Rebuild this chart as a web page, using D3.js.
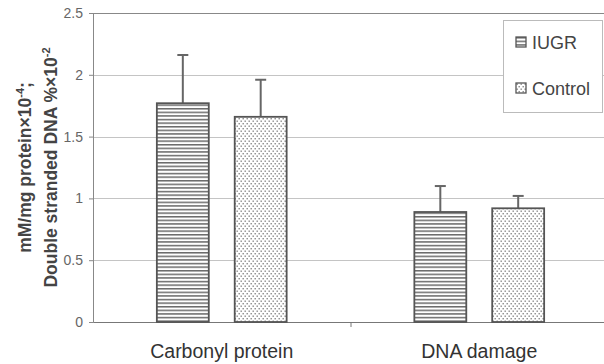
<!DOCTYPE html>
<html><head><meta charset="utf-8">
<script src="https://cdn.jsdelivr.net/npm/d3@7"></script>
<style>body{margin:0;background:#fff}svg{display:block;font-family:"Liberation Sans",Arial,sans-serif}</style>
</head><body><svg id="c" width="604" height="364"></svg>
<script>
const categories = ["Carbonyl protein", "DNA damage"];
const seriesNames = ["IUGR", "Control"];
const iugrValues = [1.77, 0.89];
const iugrErrors = [0.39, 0.21];
const controlValues = [1.66, 0.92];
const controlErrors = [0.30, 0.10];
const yTicks = [0, 0.5, 1, 1.5, 2, 2.5];
const yTickLabels = ["0", "0.5", "1", "1.5", "2", "2.5"];

const svg = d3.select("#c");
const L = 93, R = 608, T = 13, B = 322;
const defs = svg.append("defs");
const ph = defs.append("pattern").attr("id","hatch").attr("patternUnits","userSpaceOnUse")
  .attr("width",4).attr("height",3.6);
ph.append("rect").attr("width",4).attr("height",3.6).attr("fill","#fff");
ph.append("rect").attr("y",0).attr("width",4).attr("height",1.5).attr("fill","#6a6a6a");
const pd = defs.append("pattern").attr("id","dots").attr("patternUnits","userSpaceOnUse")
  .attr("width",4).attr("height",5);
pd.append("rect").attr("width",4).attr("height",5).attr("fill","#fff");
pd.append("rect").attr("x",0.5).attr("y",0.5).attr("width",1.4).attr("height",1.4).attr("fill","#888");
pd.append("rect").attr("x",2.5).attr("y",3).attr("width",1.4).attr("height",1.4).attr("fill","#888");

const y = d3.scaleLinear().domain([0,2.5]).range([B,T]);
const x0 = d3.scaleBand().domain(categories).range([L,R]);
const x1 = d3.scaleBand().domain(seriesNames).range([0,x0.bandwidth()]).paddingInner(0.333).paddingOuter(0.82);

// gridlines
svg.append("g").selectAll("line").data(yTicks.filter(t=>t>0 && t<2.5)).join("line")
  .attr("x1",L).attr("x2",R).attr("y1",d=>Math.round(y(d))+0.5).attr("y2",d=>Math.round(y(d))+0.5)
  .attr("stroke","#c4c4c4").attr("stroke-width",1);
// top border
svg.append("line").attr("x1",L).attr("x2",R).attr("y1",T+0.5).attr("y2",T+0.5).attr("stroke","#888");

// y axis
const ya = svg.append("g").attr("transform",`translate(${L},0)`)
  .call(d3.axisLeft(y).tickValues(yTicks).tickFormat((d,i)=>yTickLabels[i]).tickSize(4).tickPadding(6));
ya.select(".domain").attr("stroke","#888");
ya.selectAll(".tick line").attr("stroke","#888");
ya.selectAll("text").attr("fill","#666").style("font-size","14px").style("font-family","Liberation Sans, Arial, sans-serif");

// x axis
const xa = svg.append("g").attr("transform",`translate(0,${B})`)
  .call(d3.axisBottom(x0).tickSize(0).tickPadding(22));
xa.select(".domain").attr("stroke","#777");
xa.selectAll("text").attr("fill","#333").style("font-size","19.5px").style("font-family","Liberation Sans, Arial, sans-serif");
svg.append("g").selectAll("line").data(categories.slice(1)).join("line")
  .attr("x1",d=>x0(d)+0.5).attr("x2",d=>x0(d)+0.5).attr("y1",B).attr("y2",B+5).attr("stroke","#777");

const rows = [];
categories.forEach((c,i)=>{
  rows.push({cat:c, s:"IUGR", v:iugrValues[i], e:iugrErrors[i]});
  rows.push({cat:c, s:"Control", v:controlValues[i], e:controlErrors[i]});
});
const fillOf = s => s==="IUGR" ? "url(#hatch)" : "url(#dots)";

// error bars
const eb = svg.append("g").selectAll("g").data(rows).join("g");
eb.append("line").attr("x1",d=>x0(d.cat)+x1(d.s)+x1.bandwidth()/2).attr("x2",d=>x0(d.cat)+x1(d.s)+x1.bandwidth()/2)
  .attr("y1",d=>y(d.v)).attr("y2",d=>y(d.v+d.e)).attr("stroke","#666").attr("stroke-width",2);
eb.append("line").attr("x1",d=>x0(d.cat)+x1(d.s)+x1.bandwidth()/2-5.5).attr("x2",d=>x0(d.cat)+x1(d.s)+x1.bandwidth()/2+5.5)
  .attr("y1",d=>y(d.v+d.e)).attr("y2",d=>y(d.v+d.e)).attr("stroke","#666").attr("stroke-width",2);

// bars
svg.append("g").selectAll("rect").data(rows).join("rect")
  .attr("x",d=>x0(d.cat)+x1(d.s)).attr("width",x1.bandwidth())
  .attr("y",d=>y(d.v)).attr("height",d=>B-y(d.v))
  .attr("fill",d=>fillOf(d.s)).attr("stroke","#555").attr("stroke-width",1.8);

// y title
const yt = svg.append("text").attr("transform",`translate(0,${(T+B)/2}) rotate(-90)`)
  .attr("text-anchor","middle").attr("fill","#444").style("font-weight","bold").style("font-size","17.5px");
const l1 = yt.append("tspan").attr("x",0).attr("y",31);
l1.append("tspan").text("mM/mg protein×10");
l1.append("tspan").attr("dy",-7).style("font-size","11px").text("-4");
l1.append("tspan").attr("dy",7).text(";");
const l2 = yt.append("tspan").attr("x",0).attr("y",57);
l2.append("tspan").text("Double stranded DNA %×10");
l2.append("tspan").attr("dy",-7).style("font-size","11px").text("-2");

// legend
const lg = svg.append("g");
lg.append("rect").attr("x",503.5).attr("y",20.5).attr("width",99).attr("height",92).attr("fill","#fff").attr("stroke","#bbb");
const li = lg.selectAll("g").data(seriesNames).join("g").attr("transform",(d,i)=>`translate(516,${37+i*46})`);
li.append("rect").attr("width",10).attr("height",10).attr("fill",d=>fillOf(d)).attr("stroke","#555").attr("stroke-width",1.3);
li.append("text").attr("x",16).attr("y",12).text(d=>d).attr("fill","#444").style("font-size","18px");
</script></body></html>
